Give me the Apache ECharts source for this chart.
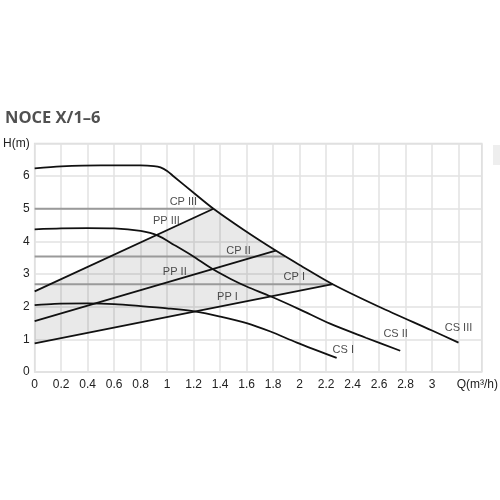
<!DOCTYPE html>
<html>
<head>
<meta charset="utf-8">
<script src="https://cdn.jsdelivr.net/npm/echarts@6/dist/echarts.min.js"></script>
<style>html,body{margin:0;padding:0;background:#fff;}#c{width:500px;height:500px;}</style>
</head>
<body>
<div id="c"></div>
<script>
// ---- data ----
const title = 'NOCE X/1–6';
const xTicks = [0,0.2,0.4,0.6,0.8,1,1.2,1.4,1.6,1.8,2,2.2,2.4,2.6,2.8,3];
const yTicks = [0,1,2,3,4,5,6];
const xName = 'Q(m³/h)';
const yName = 'H(m)';

const csIII = [[0,6.24],[0.2,6.30],[0.5,6.33],[0.8,6.33],[0.9,6.31],[0.95,6.27],[1.0,6.16],[1.05,5.99],[1.2,5.49],[1.35,5.0],[1.58,4.35],[1.82,3.72],[2.0,3.28],[2.25,2.69],[2.6,2.0],[3.0,1.27],[3.2,0.9]];
const csII = [[0,4.37],[0.2,4.40],[0.4,4.41],[0.6,4.40],[0.8,4.32],[0.93,4.18],[1.05,3.9],[1.19,3.56],[1.34,3.16],[1.48,2.85],[1.6,2.62],[1.78,2.32],[2.0,1.92],[2.23,1.48],[2.5,1.05],[2.76,0.65]];
const csI = [[0,2.05],[0.15,2.09],[0.4,2.10],[0.6,2.08],[0.8,2.02],[1.0,1.95],[1.217,1.85],[1.4,1.70],[1.6,1.50],[1.78,1.24],[1.98,0.9],[2.28,0.43]];

const ppI = [[0,0.88],[2.25,2.69]];
const ppII = [[0,1.56],[1.82,3.72]];
const ppIII = [[0,2.47],[1.35,5.0]];
const cpI = [[0,2.69],[2.25,2.69]];
const cpII = [[0,3.54],[1.89,3.54]];
const cpIII = [[0,5.0],[1.35,5.0]];

const curveLabels = [
  ['CP III',1.123,5.2],['PP III',0.995,4.64],['CP II',1.539,3.70],['PP II',1.058,3.06],
  ['CP I',1.96,2.91],['PP I',1.456,2.30],['CS III',3.20,1.35],['CS II',2.725,1.15],['CS I',2.33,0.67]
];

// shaded operating area: PP I -> CS III (between PP I and PP III ends) -> PP III back
const shade = [].concat(
  ppI,
  csIII.filter(p => p[0] < 2.25 && p[0] > 1.35).reverse(),
  ppIII.slice().reverse()
);

const XMAX = 3.375, YMAX = 7;

const chart = echarts.init(document.getElementById('c'), null, {renderer:'canvas'});
const lineS = (data, color, w, smooth) => ({
  type:'line', data, showSymbol:false, symbol:'none', smooth: smooth || false,
  lineStyle:{color, width:w}, silent:true, z:3
});
chart.setOption({
  animation:false,
  backgroundColor:'#fff',
  title:{text:title, left:0, top:105, textStyle:{fontFamily:'Open Sans', fontWeight:'bold', fontSize:16.5, color:'#505050'}},
  grid:{left:33.5, right:18.3, top:143.5, bottom:128, show:true, borderColor:'#dcdcdc', borderWidth:1.5, containLabel:false},
  graphic:[{type:'rect', right:0, top:145, shape:{width:7, height:20}, style:{fill:'#eeeeee'}}],
  xAxis:{type:'value', min:0, max:XMAX, interval:0.2,
    name:xName, nameLocation:'end', nameGap:-25,
    nameTextStyle:{fontFamily:'Liberation Sans', fontSize:12, color:'#222', verticalAlign:'top', align:'left', padding:[7,0,0,0]},
    axisLine:{show:false}, axisTick:{show:false},
    splitLine:{show:true, lineStyle:{color:'#e2e2e2', width:1.5}},
    axisLabel:{margin:7, fontFamily:'Liberation Sans', fontSize:12, color:'#222',
      formatter:v => { const m = xTicks.find(t => Math.abs(t-v)<1e-6); return m===undefined ? '' : String(m); }}
  },
  yAxis:{type:'value', min:0, max:YMAX, interval:1,
    axisLine:{show:false}, axisTick:{show:false},
    splitLine:{show:true, lineStyle:{color:'#e2e2e2', width:1.5}},
    axisLabel:{margin:5, fontFamily:'Liberation Sans', fontSize:12, color:'#222',
      formatter:v => { if (Math.abs(v-YMAX)<1e-6) return yName; const m = yTicks.find(t => Math.abs(t-v)<1e-6); return m===undefined ? '' : String(m); }}
  },
  series:[
    {type:'custom', silent:true, z:1, data:[[0,0]],
      renderItem:(params, api) => ({
        type:'polygon',
        shape:{points: shade.map(p => api.coord(p))},
        style:{fill:'rgba(0,0,0,0.085)'}
      })
    },
    lineS(cpIII,'#9a9a9a',2), lineS(cpII,'#9a9a9a',2), lineS(cpI,'#9a9a9a',2),
    lineS(ppIII,'#111',1.8), lineS(ppII,'#111',1.8), lineS(ppI,'#111',1.8),
    lineS(csIII,'#111',1.8,0.3), lineS(csII,'#111',1.8,0.3), lineS(csI,'#111',1.8,0.3),
    {type:'scatter', symbolSize:0, silent:true, z:5,
      data: curveLabels.map(l => ({name:l[0], value:[l[1], l[2]]})),
      label:{show:true, position:'inside', formatter:p => p.name, fontFamily:'Liberation Sans', fontSize:11, color:'#222'}
    }
  ]
});
</script>
</body>
</html>
